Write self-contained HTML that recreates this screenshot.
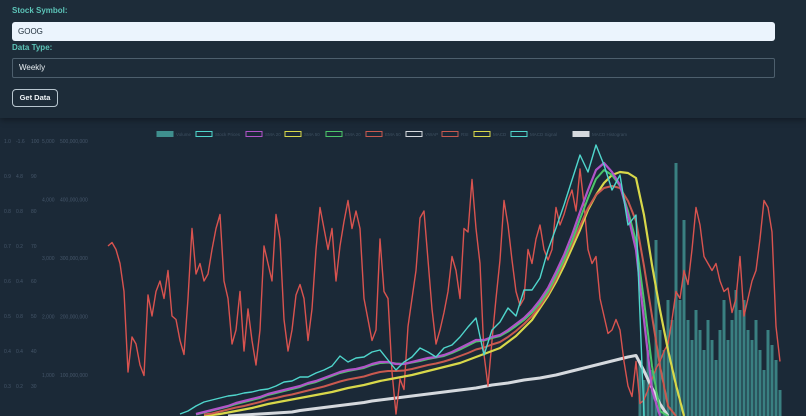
<!DOCTYPE html>
<html><head><meta charset="utf-8">
<style>
html,body{margin:0;padding:0;width:806px;height:416px;overflow:hidden;background:#1b2937;font-family:"Liberation Sans",sans-serif;}
#panel{position:absolute;left:0;top:0;width:806px;height:118px;background:#1d2c39;box-shadow:0 2px 6px rgba(0,0,0,.35);}
.lbl{position:absolute;left:12px;font-size:8px;font-weight:bold;color:#5cc4b8;}
#sym{position:absolute;left:12px;top:22px;width:763px;height:19px;background:#ebf4fd;border-radius:3px;font-size:8px;color:#1d2c39;line-height:19px;box-sizing:border-box;padding-left:6px;}
#dtype{position:absolute;left:12px;top:58px;width:763px;height:20px;border:1px solid #4d5f6d;border-radius:2px;font-size:8px;color:#e8eef2;line-height:18px;box-sizing:border-box;padding-left:6px;}
#btn{position:absolute;left:12px;top:89px;width:46px;height:18px;border:1px solid #b8c6cf;border-radius:4px;font-size:7.5px;font-weight:bold;color:#eef3f6;line-height:16px;text-align:center;box-sizing:border-box;}
svg{position:absolute;left:0;top:0;}
</style></head><body>
<div id="panel">
<div class="lbl" style="top:6px">Stock Symbol:</div>
<div id="sym">GOOG</div>
<div class="lbl" style="top:43px">Data Type:</div>
<div id="dtype">Weekly</div>
<div id="btn">Get Data</div>
</div>
<svg id="chart" width="806" height="416"></svg>
<script>
const rsiValues=[70,71,69,65,57,34,44,42,36,33,
56,50,57,60,55,63,50,49,43,39,
55,75,62,65,60,62,69,75,79,60,
55,42,46,57,40,52,43,36,46,70,
65,60,79,72,49,40,46,56,59,55,
43,52,69,81,75,69,75,60,70,77,
83,75,80,75,55,49,43,46,72,57,
55,34,22,32,29,47,55,63,78,80,
66,52,42,46,51,57,67,63,55,75,
74,89,75,65,39,30,43,55,66,83,
76,66,57,53,55,69,65,72,76,69,
66,69,81,76,79,83,86,80,92,82,
69,65,67,55,50,45,46,49,46,37,
30,27,37,25,26,29,32,35,37,40,
42,49,57,55,63,59,69,81,76,67,
65,63,65,60,57,58,51,55,67,50,
55,60,63,72,83,81,74,47,37];
const priceStart=18;
const priceValues=[40,100,200,280,320,360,400,420,460,480,520,540,600,680,700,780,780,860,920,1000,1200,1080,1160,1180,1280,1320,1120,920,1080,1180,1360,1280,1180,1360,1420,1580,1780,1960,1220,1720,1880,2160,2000,2520,2520,2760,3320,3760,4220,4720,5220,4880,5420,5020,4520,4820,3820,4020,0];
const sma20Start=22;
const sma20Values=[40,80,120,160,200,260,300,340,380,440,480,520,560,600,660,700,760,820,880,920,940,980,1040,1080,1080,1040,1040,1080,1120,1160,1180,1220,1280,1360,1440,1520,1520,1580,1620,1720,1840,1960,2120,2320,2560,2880,3220,3620,4080,4520,4920,5060,4880,4620,4020,3320,1920,520,0];
const ema20Start=22;
const ema20Values=[30,70,110,150,190,240,280,320,360,420,460,500,540,580,640,680,740,800,860,900,930,960,1020,1060,1070,1050,1040,1070,1100,1140,1170,1200,1260,1330,1410,1490,1510,1560,1600,1690,1800,1920,2070,2260,2490,2800,3120,3500,3940,4360,4740,4920,4820,4600,4100,3500,2300,1000,100,0];
const sma50Start=24;
const sma50Values=[0,20,40,70,100,130,160,200,240,270,300,330,360,390,420,450,480,520,560,590,620,660,700,730,760,790,820,860,900,940,980,1020,1060,1120,1180,1240,1300,1360,1480,1600,1760,1920,2160,2400,2680,3000,3360,3720,4120,4420,4660,4820,4880,4860,4760,4020,3020,2120,1320,620,0];
const ema50Start=24;
const ema50Values=[30,50,90,130,170,200,240,280,330,360,400,430,470,510,550,590,640,690,730,760,790,840,880,900,900,910,940,980,1020,1050,1090,1140,1200,1260,1330,1370,1430,1480,1580,1700,1840,2000,2200,2440,2740,3080,3440,3800,4160,4420,4560,4600,4560,4300,3900,3000,2000,1000,200,0];
const vwapStart=30;
const vwapValues=[0,10,20,30,40,50,60,70,80,110,130,150,170,190,210,230,250,270,300,320,340,360,380,400,420,440,460,480,500,520,540,560,590,620,640,660,690,720,740,760,790,820,860,900,940,980,1020,1060,1100,1140,1180,1210,900,560,240,0];
const volumeStart=133;
const volumeValues=[112,72,132,92,352,172,132,232,192,506,232,392,192,152,212,172,132,192,152,112,172,232,152,192,252,212,232,172,152,192,132,92,172,142,112,52];
const legendLabels=["Volume","Stock Prices","SMA 20","SMA 50","EMA 20","EMA 50","VWAP","RSI","MACD","MACD Signal","MACD Histogram"];
const col1Ticks=["1.0","0.9","0.8","0.7","0.6","0.5","0.4","0.3"];
const col2Ticks=["-1.6","4.8","0.8","0.2","0.4","0.8","0.4","0.2"];
const rsiTicks=[100,90,80,70,60,50,40,30];
const priceTicks=["5,000","4,000","3,000","2,000","1,000"];
const volTicks=["500,000,000","400,000,000","300,000,000","200,000,000","100,000,000"];

const NS="http://www.w3.org/2000/svg";
const svg=document.getElementById('chart');
const top0=141,bot=416;
function x(week){return 108+week*4;}
function yRsi(v){return top0+(100-v)*3.5;}
function yPrice(v){return bot-v/20;}
function yVol(v){return bot-v/2;}
function mk(tag,attrs){const e=document.createElementNS(NS,tag);for(const k in attrs)e.setAttribute(k,attrs[k]);return e;}
const clip=mk('clipPath',{id:'cp'});clip.appendChild(mk('rect',{x:100,y:120,width:706,height:296}));svg.appendChild(clip);
const g=mk('g',{'clip-path':'url(#cp)'});svg.appendChild(g);

// tick labels
const tg=mk('g',{fill:'#45566a','font-size':'5px'});svg.appendChild(tg);
col1Ticks.forEach((t,i)=>{const e=mk('text',{x:4,y:top0+2+i*35});e.textContent=t;

tg.appendChild(e);});
col2Ticks.forEach((t,i)=>{const e=mk('text',{x:16,y:top0+2+i*35});e.textContent=t;

tg.appendChild(e);});
rsiTicks.forEach((t)=>{const e=mk('text',{x:31,y:yRsi(t)+2});e.textContent=t;

tg.appendChild(e);});
priceTicks.forEach((t,i)=>{const e=mk('text',{x:42,y:top0+2+i*58.5});e.textContent=t;

tg.appendChild(e);});
volTicks.forEach((t,i)=>{const e=mk('text',{x:60,y:top0+2+i*58.5});e.textContent=t;

tg.appendChild(e);});

// volume bars
volumeValues.forEach((v,i)=>{const w=volumeStart+i;const r=mk('rect',{x:x(w)-1.5,y:yVol(v),width:3,height:bot-yVol(v),fill:'#3f8f8e','fill-opacity':0.85});

g.appendChild(r);});
// teal base band
function line(vals,start,step,yf,color,w,name){let d='';vals.forEach((v,i)=>{if(v===null)return;const px=x(start+i*step),py=yf(v);d+=(d?'L':'M')+px.toFixed(1)+','+py.toFixed(1);});
const p=mk('path',{d:d,fill:'none',stroke:color,'stroke-width':w,'stroke-linejoin':'round'});

g.appendChild(p);}
line(vwapValues,vwapStart,2,yPrice,'#d5d9de',3,'vwap-line');
line(rsiValues,0,1,yRsi,'#d9534f',1.4,'rsi-line');
line(sma50Values,sma50Start,2,yPrice,'#d8d84a',2.2,'sma-50-line');
line(ema50Values,ema50Start,2,yPrice,'#c9594f',2,'ema-50-line');
line(ema20Values,ema20Start,2,yPrice,'#4cc66a',2,'ema-20-line');
line(sma20Values,sma20Start,2,yPrice,'#b154c9',2.2,'sma-20-line');
line(priceValues,priceStart,2,yPrice,'#4fd6cc',1.4,'stock-price-line');

// legend
const lx=[157,196,246,285,326,366,406,442,474,511,573];
const lc=['#3f8f8e','#4fd6cc','#b154c9','#d8d84a','#4cc66a','#c9594f','#d5d9de','#c9594f','#d8d84a','#4fd6cc','#d5d9de'];
const lf=['#3f8f8e','none','none','none','none','none','none','none','none','none','#d5d9de'];
const lgG=mk('g',{});svg.appendChild(lgG);
legendLabels.forEach((t,i)=>{const gg=mk('g',{});


gg.appendChild(mk('rect',{x:lx[i],y:131.5,width:16,height:5,fill:lf[i],stroke:lc[i],'stroke-width':1}));
const e=mk('text',{x:lx[i]+19,y:136,fill:'#3e5061','font-size':'4.5px'});e.textContent=t;gg.appendChild(e);lgG.appendChild(gg);});
</script>
</body></html>
